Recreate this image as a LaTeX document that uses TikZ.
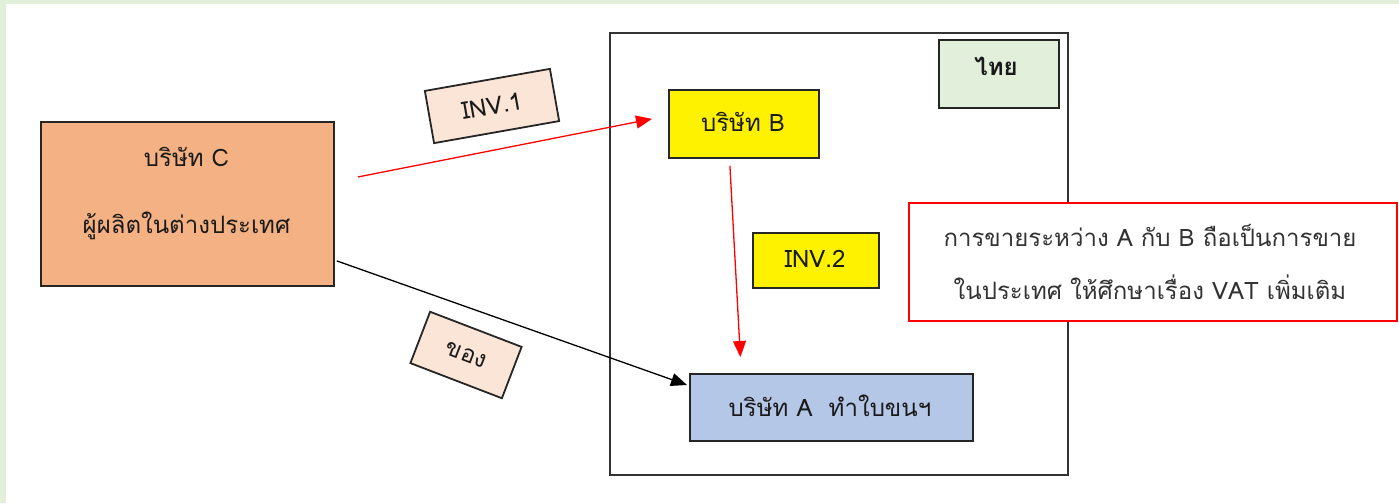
\documentclass[tikz,border=0pt]{standalone}
\usepackage{fontspec}
\newfontfamily\thai[Script=Thai]{Loma}
\usetikzlibrary{arrows.meta,calc}
\definecolor{bggreen}{HTML}{E2F0D9}
\definecolor{corange}{HTML}{F4B183}
\definecolor{cpeach}{HTML}{FBE5D6}
\definecolor{cblue}{HTML}{B4C7E7}
\definecolor{cthai}{HTML}{E2EFDA}
\definecolor{cred}{HTML}{FF0000}
\definecolor{ctext}{HTML}{1A1A1A}
\definecolor{cgray}{HTML}{333333}
\tikzset{
  box/.style={draw=black!85, line width=1.8pt, inner sep=0pt, font=\thai\fontsize{24}{28}\selectfont, text=ctext},
  lbl/.style={font=\thai\fontsize{24}{28}\selectfont, text=ctext},
  redarrow/.style={draw=cred, line width=1.3pt, -{Triangle[length=16pt,width=13pt]}},
  blackarrow/.style={draw=black, line width=1.3pt, -{Triangle[length=16pt,width=13pt]}},
}
\begin{document}
\begin{tikzpicture}[x=1pt,y=-1pt]
\useasboundingbox (0,0) rectangle (1399,503);
\fill[bggreen] (0,0) rectangle (1399,503);
\fill[white] (6,4) rectangle (1399,503);
% Thai region frame
\node[draw=black!80, line width=1.8pt, minimum width=458pt, minimum height=442pt, inner sep=0pt] (TH) at (839,254) {};
\node[box, fill=cthai, minimum width=120pt, minimum height=68pt, anchor=north west] (thai) at (938,39) {};
\node[lbl, font=\thai\bfseries\fontsize{24}{28}\selectfont] (thailbl) at (996,66) {ไทย};
% company C
\node[box, fill=corange, minimum width=293pt, minimum height=164pt, anchor=north west] (C) at (40,121) {};
\node[lbl] (Cl1) at (186.5,157) {บริษัท C};
\node[lbl] (Cl2) at (186.5,226) {ผู้ผลิตในต่างประเทศ};
% company B
\node[box, fill=yellow, minimum width=150pt, minimum height=68pt, anchor=north west] (B) at (668,89) {};
\node[lbl] (Bl) at (743,122) {บริษัท B};
% INV.2
\node[box, fill=yellow, minimum width=126pt, minimum height=55pt, anchor=north west] (I2) at (752,232) {};
\node[lbl] (I2l) at (815,259) {INV.2};
% company A
\node[box, fill=cblue, minimum width=283pt, minimum height=67pt, anchor=north west] (A) at (689,373) {};
\node[lbl] (Al) at (830,406) {บริษัท A\ \ ทำใบขนฯ};
% red note
\node[draw=cred, fill=white, line width=1.8pt, minimum width=488pt, minimum height=118pt, anchor=north west] (N) at (908,202) {};
\node[lbl, text=cgray] (Nl1) at (1150,235) {การขายระหว่าง A กับ B ถือเป็นการขาย};
\node[lbl, text=cgray] (Nl2) at (1150,287) {ในประเทศ ให้ศึกษาเรื่อง VAT เพิ่มเติม};
% INV.1 label
\node[box, fill=cpeach, minimum width=127pt, minimum height=53pt, rotate=10] (I1) at (492,106) {INV.1};
% goods label
\node[box, fill=cpeach, minimum width=98pt, minimum height=55pt, rotate=-21] (G) at (466,355) {ของ};
% connectors
\coordinate (r1s) at ($(C.north east)+(23,56)$);
\coordinate (r1e) at ($(B.west)+(-16,-5)$);
\draw[redarrow] (r1s) -- (r1e);
\coordinate (r2s) at ($(B.south)+(-14,7)$);
\coordinate (r2e) at ($(A.north)+(-91,-16)$);
\draw[redarrow] (r2s) -- (r2e);
\coordinate (ks) at ($(C.east)+(2,57)$);
\coordinate (ke) at ($(A.north west)+(-2,12)$);
\draw[blackarrow] (ks) -- (ke);
\end{tikzpicture}
\end{document}
